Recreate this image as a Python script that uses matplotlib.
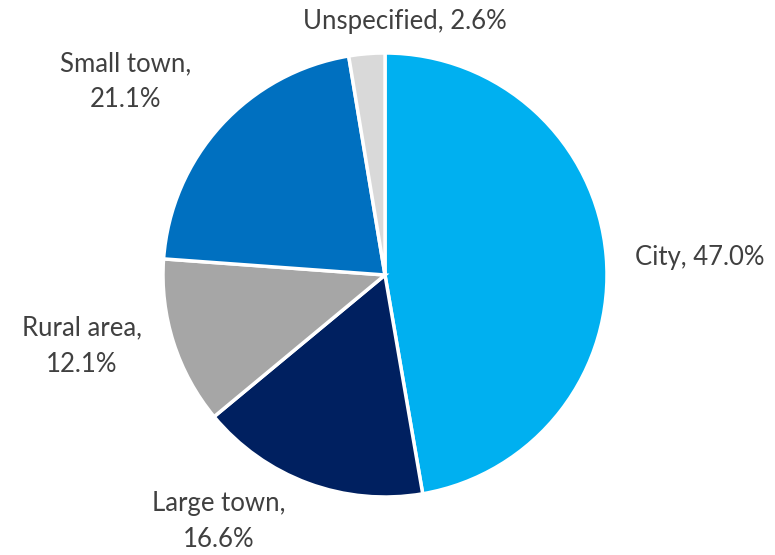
import matplotlib
matplotlib.use('Agg')
from matplotlib import pyplot as plt

categories = ['City', 'Large town', 'Rural area', 'Small town', 'Unspecified']
label_text = ['City, 47.0%', 'Large town,\n16.6%', 'Rural area,\n12.1%',
              'Small town,\n21.1%', 'Unspecified, 2.6%']
shares = [47.0, 16.6, 12.1, 21.1, 2.6]
colors = ['#00B0F0', '#002060', '#A6A6A6', '#0070C0', '#D9D9D9']

# label positions in units of the pie radius
label_pos = [(1.42, 0.077), (-0.75, -1.11), (-1.365, -0.32),
             (-1.167, 0.87), (0.09, 1.14)]

plt.rcParams['font.family'] = ['Lato', 'DejaVu Sans']

fig = plt.figure(figsize=(7.75, 5.55), dpi=100)
ax = fig.add_axes([0, 0, 1, 1])
ax.pie(shares, colors=colors, startangle=90, counterclock=False,
       wedgeprops={'edgecolor': 'white', 'linewidth': 2.5})

for txt, (x, y) in zip(label_text, label_pos):
    ax.text(x, y, txt, ha='center', va='center', fontsize=18.5,
            color='#404040', linespacing=1.55)

ax.set_xlim(-385 / 222, 390 / 222)
ax.set_ylim(-280 / 222, 275 / 222)
ax.set_aspect('auto')
ax.axis('off')

fig.savefig('out.png', dpi=100)
